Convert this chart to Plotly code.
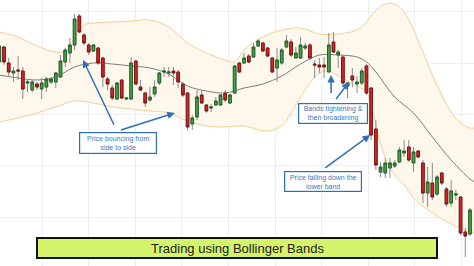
import plotly.graph_objects as go

# ---- candle data (price units) ----
opens = [238,253,237,227,230,229,217,210,216,211,213,218,218,223,238,247,255,284,265,255,
         249,252,242,221,212,201,220,201,201,239,213,207,200,206,217,228,227,229,228,216,
         207,176,183,205,195,192,195,195,207,197,207,237,237,244,243,254,257,252,242,232,
         237,253,258,242,242,252,255,236,235,235,228,258,245,243,214,224,216,217,234,212,
         171,128,127,132,134,138,147,153,137,149,137,107,117,106,127,111,97,105,103,68,66]
highs = [260,254,242,233,244,233,220,220,218,222,223,223,228,245,252,262,286,286,267,257,
         256,253,243,223,215,218,220,203,243,240,220,208,213,220,228,233,233,233,230,218,
         208,185,210,210,196,196,203,206,210,206,235,238,247,246,257,261,258,253,243,252,
         252,265,261,253,263,257,257,240,242,243,267,268,250,245,218,232,224,232,236,213,
         180,138,142,142,140,153,160,160,153,150,140,133,137,125,128,113,120,110,104,72,92]
lows = [232,235,224,218,220,201,208,208,210,201,208,216,212,222,233,237,250,267,255,245,
        248,235,213,210,200,200,201,200,200,215,209,193,198,203,215,223,223,215,212,203,
        170,170,180,196,187,188,194,194,198,196,206,227,236,237,242,253,248,243,227,218,
        235,252,243,241,241,250,240,222,227,222,228,247,232,215,202,213,207,215,205,160,
        130,123,122,122,132,137,143,138,128,142,97,93,100,104,115,93,93,100,65,43,64]
closes = [254,238,228,229,229,211,218,218,213,217,221,221,227,239,250,255,281,268,257,248,
          255,237,223,216,202,217,202,202,237,216,210,197,203,213,227,229,228,227,218,205,
          173,182,203,197,189,193,199,205,200,205,234,228,242,238,253,259,249,244,228,240,
          250,259,245,247,255,254,242,235,233,233,255,248,248,217,217,220,218,229,207,165,
          135,133,137,137,137,150,149,140,148,143,107,118,103,123,117,96,109,106,67,64,90]
candle_idx = list(range(len(opens)))

# ---- Bollinger bands ----
upper_x = [0,4,8,12,14,16,18,20,24,28,32,36,40,44,48,50,52,56,60,64,68,72,76,78,80,82,84,86,88,90,92,94,96,98,100,101]
upper_y = [268,263,254,248,249,262,275,277,278,279,280,273,257,247,240,238,250,263,270,272,266,266,270,278,290,296,296,288,270,248,225,205,188,177,172,172]
lower_x = [0,4,8,12,16,20,24,28,32,36,40,44,48,52,56,58,60,62,64,66,68,70,72,74,76,78,79,80,82,84,86,88,92,96,100,101]
lower_y = [178,182,187,193,199,197,193,191,189,187,179,174,173,174,169,170,174,187,203,217,227,229,224,219,214,208,195,175,142,125,115,102,87,76,68,67]
mid_x = [0,4,8,12,16,20,24,28,32,36,40,44,48,52,56,60,64,68,72,76,78,80,84,88,92,96,100,101]
mid_y = [225,222,220,223,233,237,236,234,232,226,214,209,207,212,216,224,236,245,245,243,238,228,203,187,163,140,121,118]

title_text = "Trading using Bollinger Bands"
note1 = "Price bouncing from<br>side to side"
note2 = "Bands tightening &<br>then broadening"
note3 = "Price falling down the<br>lower band"

GREEN, GREEN_LINE = "#45a345", "#23622a"
RED, RED_LINE = "#d42626", "#7e1414"
BAND_FILL, BAND_LINE = "#fef8ec", "#f3cf96"
BLUE = "#2f6fb8"
X_RANGE = [0.15, 100.85]
Y_RANGE = [34, 300]

fig = go.Figure()
fig.add_trace(go.Scatter(x=upper_x, y=upper_y, mode="lines", line=dict(color=BAND_LINE, width=1, shape="spline"),
                         hoverinfo="skip", showlegend=False))
fig.add_trace(go.Scatter(x=lower_x, y=lower_y, mode="lines", line=dict(color=BAND_LINE, width=1, shape="spline"),
                         fill="tonexty", fillcolor=BAND_FILL, hoverinfo="skip", showlegend=False))
fig.add_trace(go.Scatter(x=mid_x, y=mid_y, mode="lines", line=dict(color="#7d7d7d", width=1, shape="spline"),
                         hoverinfo="skip", showlegend=False))
# wicks (grey) on overlay axes so candles sit above the band fill
fig.add_trace(go.Candlestick(x=candle_idx, open=opens, high=highs, low=lows, close=closes,
                             xaxis="x2", yaxis="y2",
                             increasing=dict(line=dict(color="#8a8a8a", width=1), fillcolor=GREEN),
                             decreasing=dict(line=dict(color="#8a8a8a", width=1), fillcolor=RED),
                             showlegend=False, hoverinfo="skip"))
body_hi = [max(o, c) for o, c in zip(opens, closes)]
body_lo = [min(o, c) for o, c in zip(opens, closes)]
fig.add_trace(go.Candlestick(x=candle_idx, open=opens, high=body_hi, low=body_lo, close=closes,
                             xaxis="x2", yaxis="y2",
                             increasing=dict(line=dict(color=GREEN_LINE, width=1), fillcolor=GREEN),
                             decreasing=dict(line=dict(color=RED_LINE, width=1), fillcolor=RED),
                             showlegend=False, hoverinfo="skip"))

box_font = dict(family="Liberation Sans, Arial", size=7, color="#4079c0")
def note(text, x, y, w, h):
    fig.add_annotation(x=x, y=y, xref="x", yref="y", text=text, showarrow=False, font=box_font,
                       bgcolor="white", bordercolor=BLUE, borderwidth=1.2, borderpad=1,
                       width=w, height=h, align="center", xanchor="center", yanchor="middle")
def arrow(x, y, ax, ay):
    fig.add_annotation(x=x, y=y, ax=ax, ay=ay, xref="x", yref="y", axref="x", ayref="y",
                       text=" ", showarrow=True, arrowhead=2, arrowsize=1, arrowwidth=1.5,
                       arrowcolor=BLUE, standoff=0, startstandoff=0)

arrow(17.8, 240, 25.0, 169)
arrow(37.3, 187, 25.2, 169)
arrow(70.5, 225, 70.5, 197)
arrow(74.3, 218, 70.9, 197)
arrow(78.8, 165, 68.6, 130)
note(note1, 25.2, 157.5, 74, 18)
note(note2, 70.8, 187, 66, 17)
note(note3, 68.8, 119, 74, 17)

fig.add_shape(type="rect", xref="paper", yref="paper", x0=37/474, x1=437/474, y0=8/266, y1=28/266,
              line=dict(color="#111111", width=2), fillcolor="#d6f36c", layer="above")
fig.add_annotation(x=0.5, y=18/266, xref="paper", yref="paper", text=title_text, showarrow=False,
                   xanchor="center", yanchor="middle",
                   font=dict(family="Liberation Sans, Arial", size=13, color="#222222"))

axis_common = dict(showticklabels=False, zeroline=False, showline=False, ticks="")
fig.update_layout(width=474, height=266, margin=dict(l=0, r=0, t=0, b=0),
                  paper_bgcolor="white", plot_bgcolor="white", showlegend=False, boxgap=0.2,
                  xaxis=dict(range=X_RANGE, rangeslider=dict(visible=False), showgrid=True,
                             gridcolor="#eeeeee", tick0=9.1, dtick=9.9, **axis_common),
                  yaxis=dict(range=Y_RANGE, showgrid=True, gridcolor="#eeeeee", tick0=83, dtick=51.3,
                             **axis_common),
                  xaxis2=dict(range=X_RANGE, overlaying="x", rangeslider=dict(visible=False),
                              showgrid=False, **axis_common),
                  yaxis2=dict(range=Y_RANGE, overlaying="y", showgrid=False, **axis_common))
fig.write_html("out.html")
